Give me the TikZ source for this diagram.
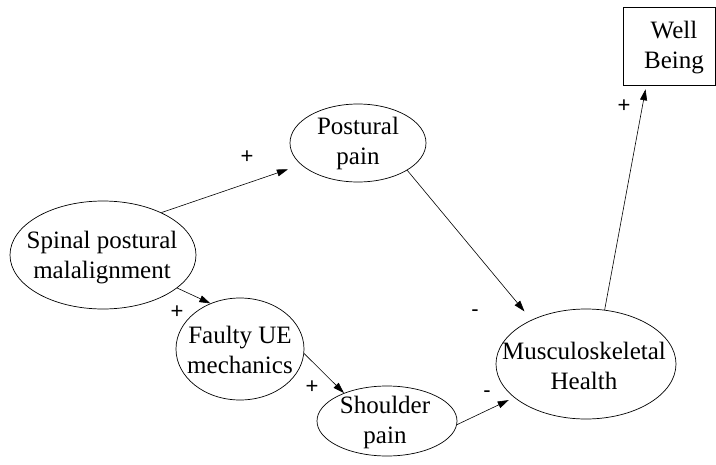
\documentclass[tikz,border=0pt]{standalone}
\usepackage{fontspec}
\setmainfont{Liberation Serif}
\newfontfamily\signfont{Liberation Sans}
\usetikzlibrary{shapes.geometric,arrows.meta,calc}
\begin{document}
\begin{tikzpicture}[x=1pt,y=-1pt,
  ell/.style={ellipse,draw,line width=0.7pt,inner sep=0pt},
  txt/.style={inner sep=0pt,align=center,font=\fontsize{25}{30}\selectfont},
  wbox/.style={rectangle,draw,line width=0.7pt,inner sep=0pt},
  conn/.style={line width=0.6pt,-{Triangle[length=11pt,width=7pt]}},
  sign/.style={font=\signfont\fontsize{22}{24}\selectfont,inner sep=0pt}]
\useasboundingbox (0,0) rectangle (716,464);
\node[ell,minimum width=186pt,minimum height=108pt] (sp) at (103,255) {};
\node[txt] (spt) at (102,258) {Spinal postural\\malalignment};
\node[ell,minimum width=136pt,minimum height=78pt] (pp) at (358,143) {};
\node[txt] (ppt) at (358,143) {Postural\\pain};
\node[ell,minimum width=128pt,minimum height=102pt] (fa) at (240,349) {};
\node[txt] (fat) at (240,350) {Faulty UE\\mechanics};
\node[ell,minimum width=140pt,minimum height=70pt] (sh) at (387,421) {};
\node[txt] (sht) at (385,422) {Shoulder\\pain};
\node[ell,minimum width=180pt,minimum height=110pt] (mh) at (586,364) {};
\node[txt] (mht) at (584,366) {Musculoskeletal\\Health};
\node[wbox,minimum width=92pt,minimum height=78pt] (wb) at (669,46) {};
\node[txt] (wbt) at (674,48) {Well\\Being};
\draw[conn,shorten >=14pt] (sp.36) -- (pp.201);
\draw[conn] (sp.-24) -- (fa.123);
\draw[conn] (fa.-4) -- (sh.147);
\draw[conn,shorten >=11pt] (pp.-29) -- (mh.141);
\draw[conn,shorten >=6pt] (sh.-3) -- (mh.205);
\draw[conn,shorten >=4pt] (mh.71) -- (wb.240);
\node[sign] (s1) at (247,157) {+};
\node[sign] (s2) at (177,312) {+};
\node[sign] (s3) at (312,387) {+};
\node[sign] (s4) at (475,313) {-};
\node[sign] (s5) at (487,394) {-};
\node[sign] (s6) at (624,106) {+};
\end{tikzpicture}
\end{document}
